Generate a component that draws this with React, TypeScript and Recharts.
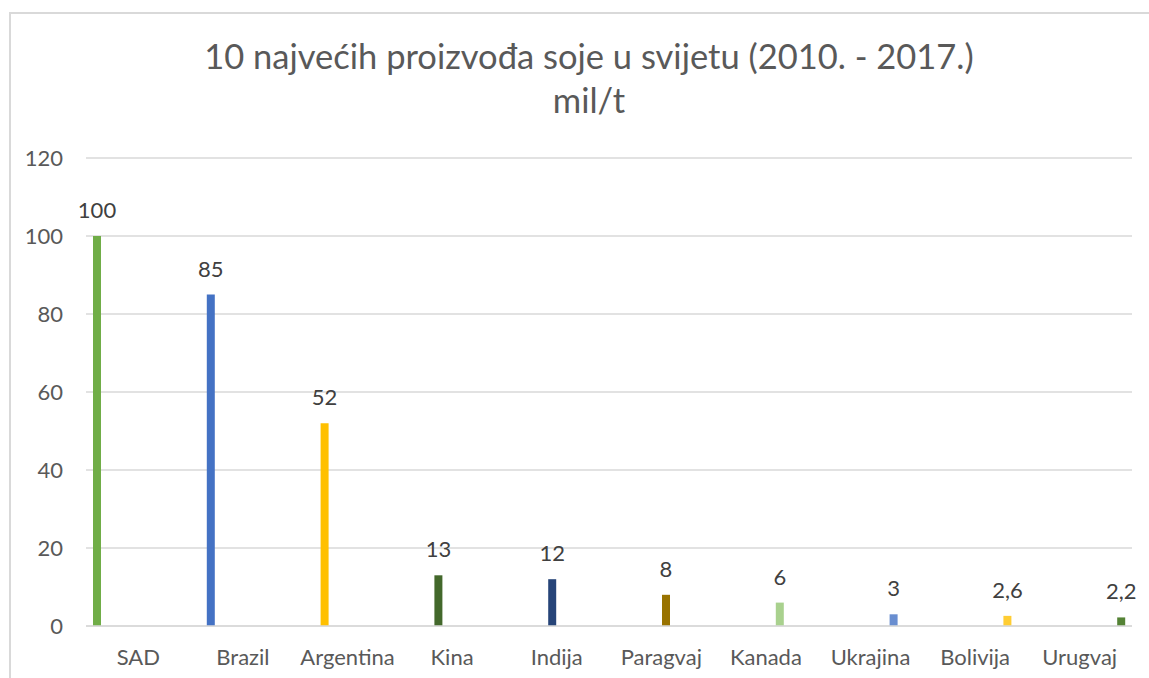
import React from "react";
import { BarChart, Bar, XAxis, YAxis, CartesianGrid, LabelList } from "recharts";

const categories = ["SAD", "Brazil", "Argentina", "Kina", "Indija", "Paragvaj", "Kanada", "Ukrajina", "Bolivija", "Urugvaj"];
const values = [100, 85, 52, 13, 12, 8, 6, 3, 2.6, 2.2];
const colors = ["#70AD47", "#4472C4", "#FFC000", "#43682B", "#264478", "#997300", "#A9D18E", "#698ED0", "#FFCD33", "#548235"];
const yTicks = [0, 20, 40, 60, 80, 100, 120];
const titleLine1 = "10 najvećih proizvođa soje u svijetu (2010. - 2017.)";
const titleLine2 = "mil/t";

const rows = categories.map((name, ci) => {
  const row: Record<string, any> = { name };
  values.forEach((_, si) => {
    row[`s${si}`] = si === ci ? values[si] : null;
  });
  return row;
});

const FONT = "Lato, 'Open Sans', sans-serif";

const renderLabel = (props: any) => {
  const { x, y, width, value } = props;
  if (value === null || value === undefined) return null;
  return (
    <text
      x={x + width / 2}
      y={y - 18}
      textAnchor="middle"
      fill="#404040"
      fontSize={22}
      fontFamily={FONT}
    >
      {String(value).replace(".", ",")}
    </text>
  );
};

export default function App() {
  return (
    <>
      <style>{"html,body{margin:0;padding:0;overflow:hidden;}"}</style>
      <div
        style={{
          position: "relative",
          marginTop: 12,
          marginLeft: 9,
          width: 1138,
          height: 664,
          borderLeft: "2px solid #d9d9d9",
          borderTop: "2px solid #d9d9d9",
          fontFamily: FONT,
          overflow: "hidden",
        }}
      >
        <div
          style={{
            position: "absolute",
            left: 0,
            width: 1156,
            top: 20,
            textAlign: "center",
            color: "#595959",
            fontSize: 34.5,
            lineHeight: "44px",
          }}
        >
          <div>{titleLine1}</div>
          <div>{titleLine2}</div>
        </div>
        <BarChart
          width={1138}
          height={664}
          data={rows}
          margin={{ top: 144, right: 17, bottom: 0, left: 0 }}
          barSize={8}
          barGap={1.2}
        >
          <CartesianGrid vertical={false} stroke="#d9d9d9" strokeWidth={1.5} />
          <XAxis
            dataKey="name"
            height={52}
            axisLine={{ stroke: "#d9d9d9", strokeWidth: 1.5 }}
            tickLine={false}
            tickMargin={17}
            tick={{ fill: "#595959", fontSize: 22, fontFamily: FONT }}
            interval={0}
          />
          <YAxis
            width={75}
            domain={[0, 120]}
            ticks={yTicks}
            axisLine={false}
            tickLine={false}
            tickMargin={17}
            tick={{ fill: "#595959", fontSize: 22, fontFamily: FONT }}
          />
          {values.map((_, si) => (
            <Bar key={si} dataKey={`s${si}`} fill={colors[si]} isAnimationActive={false}>
              <LabelList dataKey={`s${si}`} content={renderLabel} />
            </Bar>
          ))}
        </BarChart>
      </div>
    </>
  );
}
